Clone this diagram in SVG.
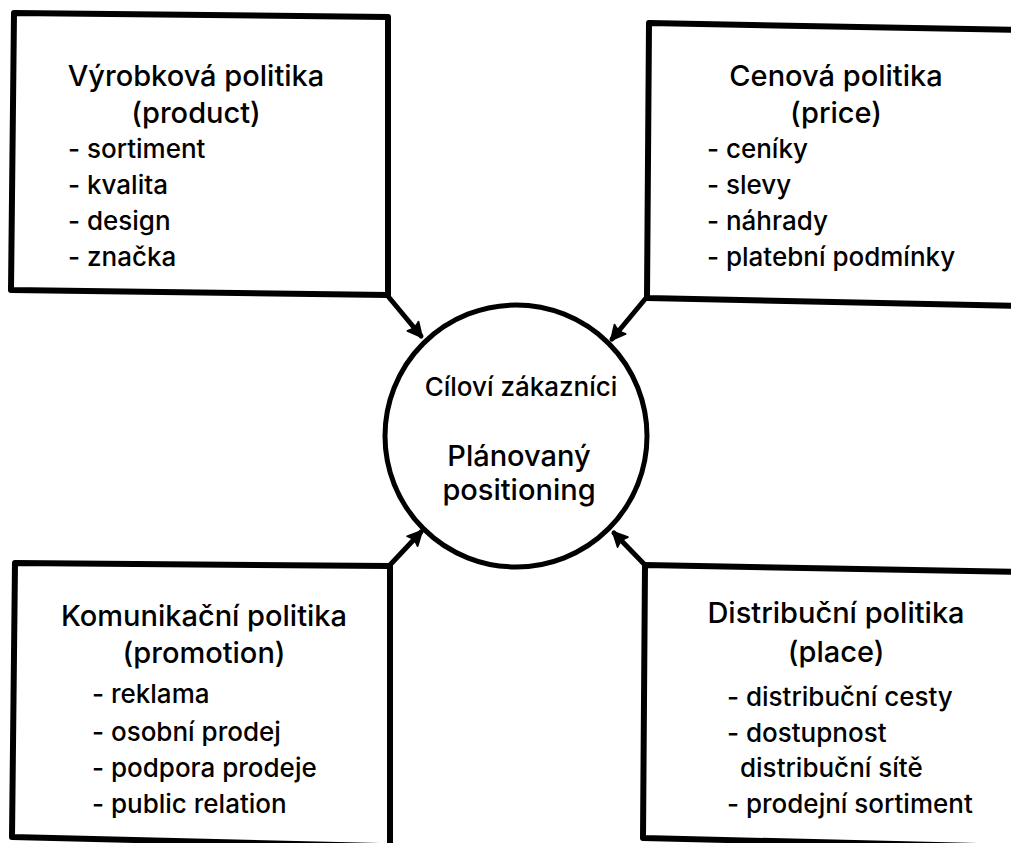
<svg xmlns="http://www.w3.org/2000/svg" width="1011" height="843" viewBox="0 0 1011 843">
<style>
.box{fill:none;stroke:#000;stroke-width:6;stroke-linejoin:round;stroke-linecap:round}
.conn{fill:none;stroke:#000;stroke-width:5;stroke-linecap:round}
text{font-family:Inter,"Liberation Sans",sans-serif;fill:#000;font-weight:500}
.t{font-size:29px;text-anchor:middle}
.b{font-size:26px}
.c1{font-size:26px;text-anchor:middle}
.c2{font-size:29px;text-anchor:middle}
</style>
<defs>
<marker id="ah" viewBox="0 0 10 10" refX="8" refY="5" markerWidth="18" markerHeight="18" markerUnits="userSpaceOnUse" orient="auto">
<path d="M1,1 L9,5 L1,9 Q3,5 1,1 Z" fill="#000" stroke="#000" stroke-width="1" stroke-linejoin="round"/>
</marker>
</defs>
<rect width="1011" height="843" fill="#fff"/>
<g id="connectors">
<line class="conn" x1="387" y1="295" x2="421" y2="336" marker-end="url(#ah)"/>
<line class="conn" x1="646" y1="298" x2="612" y2="339" marker-end="url(#ah)"/>
<line class="conn" x1="389" y1="566" x2="421" y2="532" marker-end="url(#ah)"/>
<line class="conn" x1="645" y1="565" x2="614" y2="533" marker-end="url(#ah)"/>
</g>
<g id="node-product">
<path class="box" d="M14,13 L388,17 L388,295 L11,290 Z"/>
<text class="t" x="196" y="86">Výrobková politika</text>
<text class="t" x="196" y="123">(product)</text>
<text class="b" x="68" y="158">- sortiment</text>
<text class="b" x="68" y="194">- kvalita</text>
<text class="b" x="68" y="230">- design</text>
<text class="b" x="68" y="266">- značka</text>
</g>
<g id="node-price">
<path class="box" d="M1020,30 L649,23 L647,298 L1020,306"/>
<text class="t" x="836" y="86">Cenová politika</text>
<text class="t" x="836" y="123">(price)</text>
<text class="b" x="707" y="158">- ceníky</text>
<text class="b" x="707" y="194">- slevy</text>
<text class="b" x="707" y="230">- náhrady</text>
<text class="b" x="707" y="266">- platební podmínky</text>
</g>
<g id="node-promotion">
<path class="box" d="M390,850 L390,566 L15,563 L12,837 L380,846"/>
<text class="t" x="204" y="626">Komunikační politika</text>
<text class="t" x="204" y="663">(promotion)</text>
<text class="b" x="92" y="703">- reklama</text>
<text class="b" x="92" y="741">- osobní prodej</text>
<text class="b" x="92" y="777">- podpora prodeje</text>
<text class="b" x="92" y="813">- public relation</text>
</g>
<g id="node-place">
<path class="box" d="M1020,572 L645,565 L643,838 L1020,847"/>
<text class="t" x="836" y="623">Distribuční politika</text>
<text class="t" x="836" y="662">(place)</text>
<text class="b" x="727" y="706">- distribuční cesty</text>
<text class="b" x="727" y="742">- dostupnost</text>
<text class="b" x="740" y="777">distribuční sítě</text>
<text class="b" x="727" y="813">- prodejní sortiment</text>
</g>
<g id="node-center">
<circle cx="516" cy="436" r="131" fill="none" stroke="#000" stroke-width="5"/>
<text class="c1" x="521" y="396">Cíloví zákazníci</text>
<text class="c2" x="519" y="466">Plánovaný</text>
<text class="c2" x="519" y="500">positioning</text>
</g>
</svg>
